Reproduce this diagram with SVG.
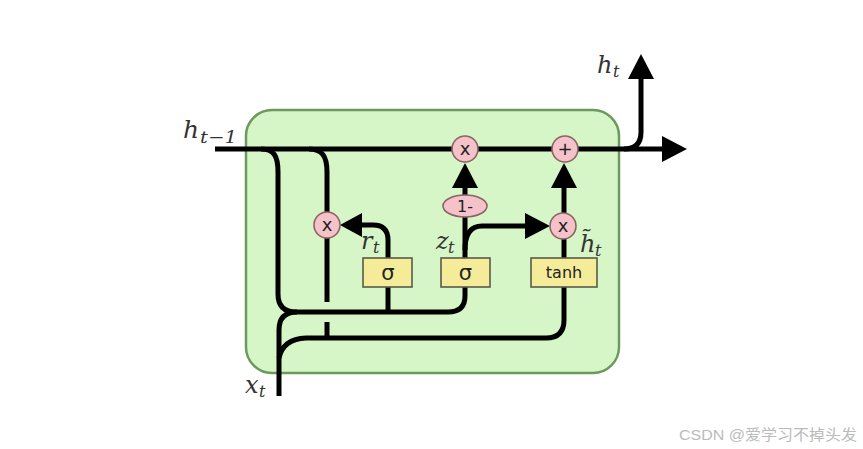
<svg xmlns="http://www.w3.org/2000/svg" width="863" height="449" viewBox="0 0 863 449">
<style>
.w{fill:none;stroke:#000;stroke-width:5;stroke-linecap:butt;stroke-linejoin:round}
.ah{fill:#000}
.op{fill:#f4c2c8;stroke:#8a6464;stroke-width:1.6}
.bx{fill:#f4ec98;stroke:#5a5a4a;stroke-width:1.6}
.opt{font-family:"DejaVu Sans",sans-serif;font-size:18px;fill:#222;text-anchor:middle}
.bt{font-family:"DejaVu Sans",sans-serif;fill:#222;text-anchor:middle}
.m{font-family:"DejaVu Serif",serif;font-style:italic;fill:#333}
</style>
<rect width="863" height="449" fill="#fff"/>
<g id="cell">
<rect x="246" y="110" width="373" height="263" rx="26" fill="#d6f6c8" stroke="#6b9a5c" stroke-width="2.5"/>
</g>
<g id="connectors">
<path class="w" d="M215,149 H664"/>
<polygon class="ah" points="662,136 687,149 662,162"/>
<path class="w" d="M624,149 Q641,149 641,132 V78"/>
<polygon class="ah" points="628,79 641,54 654,79"/>
<path class="w" d="M261,149 C274,149 278,156 278,172 V294 Q278,312 296,312 H448 Q465,312 465,296 V287"/>
<path class="w" d="M388,312 V287"/>
<path class="w" d="M279,396 V330 Q279,312 297,312"/>
<path class="w" d="M279,358 Q283,339 306,338 H546 Q564,338 564,320 V287"/>
<path class="w" d="M309,149 C322,149 327,156 327,172 V212"/>
<path class="w" d="M327,238 V302"/>
<path class="w" d="M327,322 V338"/>
<path class="w" d="M388,258 V240 Q388,225 373,225 H360"/>
<polygon class="ah" points="362,213 340,225 362,237"/>
<path class="w" d="M465,258 V217"/>
<path class="w" d="M465,195 V186"/>
<polygon class="ah" points="452,188 465,163 478,188"/>
<path class="w" d="M465,250 Q465,226 482,226 H527"/>
<polygon class="ah" points="525,213 550,226 525,239"/>
<path class="w" d="M564,258 V239"/>
<path class="w" d="M564,213 V186"/>
<polygon class="ah" points="551,188 564,163 577,188"/>
</g>
<g id="mul_reset"><circle class="op" cx="327" cy="225" r="13"/><text class="opt" x="327" y="231">x</text></g>
<g id="mul_z"><circle class="op" cx="465" cy="149" r="13"/><text class="opt" x="465" y="155">x</text></g>
<g id="add"><circle class="op" cx="565" cy="149" r="13"/><text class="opt" x="565" y="155">+</text></g>
<g id="mul_h"><circle class="op" cx="563" cy="226" r="13"/><text class="opt" x="563" y="232">x</text></g>
<g id="one_minus"><ellipse class="op" cx="465" cy="206" rx="22" ry="11"/><text class="bt" x="465" y="212" font-size="16">1-</text></g>
<g id="sigma_r"><rect class="bx" x="363" y="258" width="49" height="29"/><text class="bt" x="388" y="280" font-size="21">σ</text></g>
<g id="sigma_z"><rect class="bx" x="441" y="258" width="49" height="29"/><text class="bt" x="465.5" y="280" font-size="21">σ</text></g>
<g id="tanh"><rect class="bx" x="531" y="258" width="66" height="29"/><text class="bt" x="564" y="278" font-size="16">tanh</text></g>
<g id="labels">
<text class="m" x="183" y="138" font-size="25">h</text><text class="m" x="200" y="143" font-size="17" textLength="37" lengthAdjust="spacingAndGlyphs">t−1</text>
<text class="m" x="597" y="73" font-size="24">h</text><text class="m" x="613" y="77" font-size="16">t</text>
<text class="m" x="361" y="249" font-size="24">r</text><text class="m" x="373" y="253" font-size="16">t</text>
<text class="m" x="436" y="249" font-size="24">z</text><text class="m" x="448" y="253" font-size="16">t</text>
<text class="m" x="580" y="252" font-size="24">h̃</text><text class="m" x="595" y="256" font-size="16">t</text>
<text class="m" x="245" y="393" font-size="24">x</text><text class="m" x="259" y="397" font-size="16">t</text>
</g>
<text x="679" y="440" font-family="Liberation Sans,'Noto Sans CJK SC',sans-serif" font-size="15" fill="#bbbbbb" textLength="178" lengthAdjust="spacingAndGlyphs">CSDN @爱学习不掉头发</text>
</svg>
